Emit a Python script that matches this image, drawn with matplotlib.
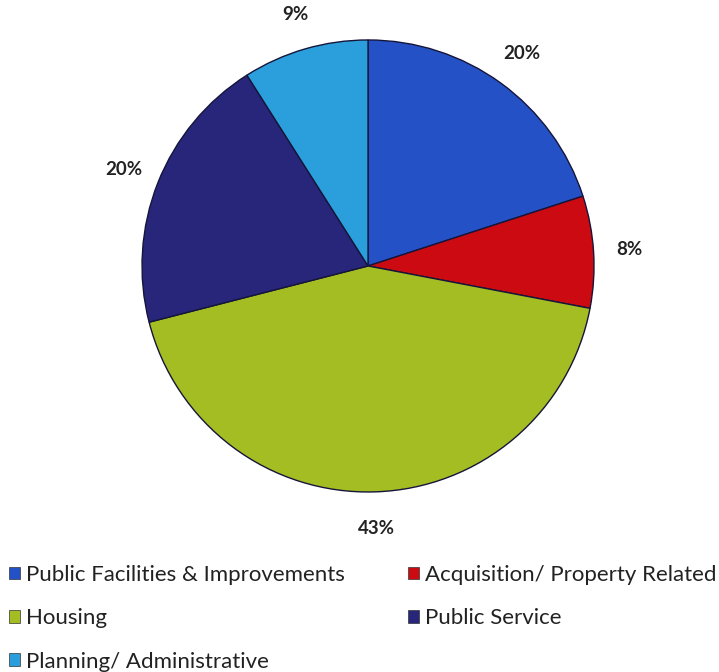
import matplotlib
matplotlib.use("Agg")
import matplotlib.pyplot as plt
from matplotlib.patches import Patch
import numpy as np

categories = ["Public Facilities & Improvements", "Acquisition/ Property Related",
              "Housing", "Public Service", "Planning/ Administrative"]
values = [20, 8, 43, 20, 9]
colors = ["#2452c6", "#cc0a12", "#a4bd22", "#27267a", "#2a9fdc"]

plt.rcParams['font.family'] = ['Lato', 'DejaVu Sans']

fig = plt.figure(figsize=(7.19, 6.72), dpi=100)
L = 1.3
ax = fig.add_axes([0.1032, 0.167, 0.8173, 0.8744])
wedges, texts, autotexts = ax.pie(values, colors=colors, startangle=90, counterclock=False,
                                  radius=1.0, autopct='%d%%', pctdistance=1.16,
                                  wedgeprops=dict(edgecolor='#15153a', linewidth=1.0),
                                  textprops=dict(fontsize=13.5, fontweight='bold', color='#222222'))
ax.set_xlim(-L, L)
ax.set_ylim(-L, L)
ax.set_aspect('equal')
ax.axis('off')

order = [0, 2, 4, 1, 3]
handles = [Patch(facecolor=colors[i], edgecolor='#333333', linewidth=0.5) for i in order]
labels = [categories[i] for i in order]
fig.legend(handles, labels, ncol=2, loc='upper left', bbox_to_anchor=(0.012, 1 - 565 / 672),
           frameon=False, fontsize=16, handlelength=0.5, handleheight=0.5, handletextpad=0.3,
           labelspacing=1.05, columnspacing=2.8, borderaxespad=0, borderpad=0,
           labelcolor='#222222')

fig.savefig("out.png", dpi=100, facecolor='white')
